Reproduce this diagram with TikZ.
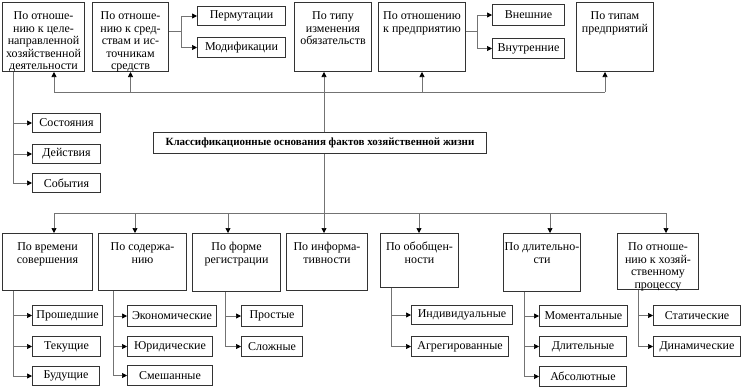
\documentclass[tikz,border=0pt]{standalone}
\usepackage{fontspec}
\setmainfont{Liberation Serif}
\usetikzlibrary{arrows.meta}
\newcommand{\bt}[3]{\parbox[c][#2][t]{#1}{\centering\fontsize{12}{12.5}\selectfont\rule{0pt}{17pt}#3\par}}
\begin{document}
\begin{tikzpicture}[x=1pt,y=-1pt,
 bx/.style={draw=black!80,line width=1pt,inner sep=0pt,anchor=north west},
 sb/.style={draw=black!80,line width=1pt,inner sep=1pt,minimum height=20pt,anchor=north west,font=\fontsize{12}{12}\selectfont},
 ln/.style={draw=black!55,line width=0.7pt},
 ar/.style={ln,-{Triangle[length=5pt,width=5pt,color=black]}}]
\useasboundingbox (0,0) rectangle (742,388);
% top row
\node[bx] (b1) at (2,2) {\bt{82pt}{69pt}{По отноше-\\нию к целе-\\направленной\\хозяйственной\\деятельности}};
\node[bx] (b2) at (92,2) {\bt{76pt}{69pt}{По отноше-\\нию к сред-\\ствам и ис-\\точникам\\средств}};
\node[sb,minimum width=88pt,minimum height=19pt] (perm) at (197,6) {Пермутации};
\node[sb,minimum width=88pt] (mod) at (197,37) {Модификации};
\node[bx] (b3) at (294,2) {\bt{77pt}{69pt}{По типу\\изменения\\обязательств}};
\node[bx] (b4) at (378,2) {\bt{87pt}{69pt}{По отношению\\к предприятию}};
\node[sb,minimum width=72pt,minimum height=21pt] (vn1) at (492,4) {Внешние};
\node[sb,minimum width=72pt] (vn2) at (492,38) {Внутренние};
\node[bx] (b5) at (576,2) {\bt{77pt}{69pt}{По типам\\предприятий}};
% left group
\node[sb,minimum width=68pt,minimum height=19pt] (st) at (32,113) {Состояния};
\node[sb,minimum width=68pt,minimum height=19pt] (de) at (32,144) {Действия};
\node[sb,minimum width=68pt,minimum height=19pt] (so) at (32,173) {События};
% central
\node[draw=black!80,line width=1pt,minimum width=333pt,minimum height=21pt,inner sep=0pt,anchor=north west,font=\bfseries\fontsize{11}{11}\selectfont] (c) at (153,132) {Классификационные основания фактов хозяйственной жизни};
% bottom row
\node[bx] (bt1) at (2,233) {\bt{90pt}{57pt}{По времени\\совершения}};
\node[bx] (bt2) at (98,233) {\bt{88pt}{57pt}{По содержа-\\нию}};
\node[bx] (bt3) at (192,233) {\bt{88pt}{58pt}{По форме\\регистрации}};
\node[bx] (bt4) at (286,233) {\bt{81pt}{57pt}{По информа-\\тивности}};
\node[bx] (bt5) at (380,233) {\bt{78pt}{54pt}{По обобщен-\\ности}};
\node[bx] (bt6) at (503,233) {\bt{77pt}{58pt}{По длительно-\\сти}};
\node[bx] (bt7) at (617,233) {\bt{81pt}{56pt}{По отноше-\\нию к хозяй-\\ственному\\процессу}};
% bottom sub boxes
\node[sb,minimum width=70pt] (pr) at (32,305) {Прошедшие};
\node[sb,minimum width=68pt] (te) at (32,336) {Текущие};
\node[sb,minimum width=67pt,minimum height=19pt] (bu) at (32,366) {Будущие};
\node[sb,minimum width=89pt,minimum height=21pt] (ek) at (127,305) {Экономические};
\node[sb,minimum width=85pt] (yu) at (127,336) {Юридические};
\node[sb,minimum width=85pt] (sm) at (127,365) {Смешанные};
\node[sb,minimum width=61pt,minimum height=21pt] (pro) at (241,305) {Простые};
\node[sb,minimum width=61pt] (sl) at (241,336) {Сложные};
\node[sb,minimum width=101pt,minimum height=19pt] (ind) at (411,305) {Индивидуальные};
\node[sb,minimum width=97pt] (ag) at (411,336) {Агрегированные};
\node[sb,minimum width=88pt,minimum height=21pt] (mo) at (539,305) {Моментальные};
\node[sb,minimum width=87pt] (dl) at (539,336) {Длительные};
\node[sb,minimum width=87pt] (ab) at (539,366) {Абсолютные};
\node[sb,minimum width=87pt] (stt) at (653,305) {Статические};
\node[sb,minimum width=87pt] (di) at (653,336) {Динамические};
% top connectors
\draw[ln] ([yshift=5.5pt]b2.east) -- ++(12,0) coordinate (j2);
\draw[ar] (j2) |- (perm);
\draw[ar] (j2) |- (mod);
\draw[ln] ([yshift=5.5pt]b4.east) -- ++(11,0) coordinate (j4);
\draw[ar] (j4) |- (vn1);
\draw[ar] (j4) |- (vn2);
\coordinate (tl) at (54,92);
\coordinate (tr) at (605,92);
\draw[ln] (tl) -- (tr);
\draw[ar] (tl) -- (tl |- b1.south);
\draw[ar] (b2.south |- tl) -- (b2.south);
\draw[ar] (b4.south |- tl) -- (b4.south);
\draw[ar] (tr) -- (tr |- b5.south);
\coordinate (vx) at (324,0);
\draw[ar] (c.north -| vx) -- (b3.south -| vx);
\draw[ar] (c.south -| vx) -- (bt4.north -| vx);
% left trunk
\coordinate (t0) at (13,0);
\draw[ar] (t0 |- b1.south) |- (so);
\draw[ar] (t0 |- st) -- (st);
\draw[ar] (t0 |- de) -- (de);
% bottom line
\coordinate (bl) at (54,213);
\coordinate (br) at (666,213);
\draw[ln] (bl) -- (br);
\coordinate (d2) at (135,213);
\coordinate (d3) at (228,213);
\coordinate (d5) at (419,213);
\coordinate (d6) at (550,213);
\draw[ar] (bl) -- (bl |- bt1.north);
\draw[ar] (d2) -- (d2 |- bt2.north);
\draw[ar] (d3) -- (d3 |- bt3.north);
\draw[ar] (d5) -- (d5 |- bt5.north);
\draw[ar] (d6) -- (d6 |- bt6.north);
\draw[ar] (br) -- (br |- bt7.north);
% bottom trunks
\coordinate (t1) at (13,0);
\draw[ar] (t1 |- bt1.south) |- (bu);
\draw[ar] (t1 |- pr) -- (pr);
\draw[ar] (t1 |- te) -- (te);
\coordinate (t2) at (113,0);
\draw[ar] (t2 |- bt2.south) |- (sm);
\draw[ar] (t2 |- ek) -- (ek);
\draw[ar] (t2 |- yu) -- (yu);
\coordinate (t3) at (225,0);
\draw[ar] (t3 |- bt3.south) |- (sl);
\draw[ar] (t3 |- pro) -- (pro);
\coordinate (t5) at (391,0);
\draw[ar] (t5 |- bt5.south) |- (ag);
\draw[ar] (t5 |- ind) -- (ind);
\coordinate (t6) at (524,0);
\draw[ar] (t6 |- bt6.south) |- (ab);
\draw[ar] (t6 |- mo) -- (mo);
\draw[ar] (t6 |- dl) -- (dl);
\coordinate (t7) at (638,0);
\draw[ar] (t7 |- bt7.south) |- (di);
\draw[ar] (t7 |- stt) -- (stt);
\end{tikzpicture}
\end{document}
